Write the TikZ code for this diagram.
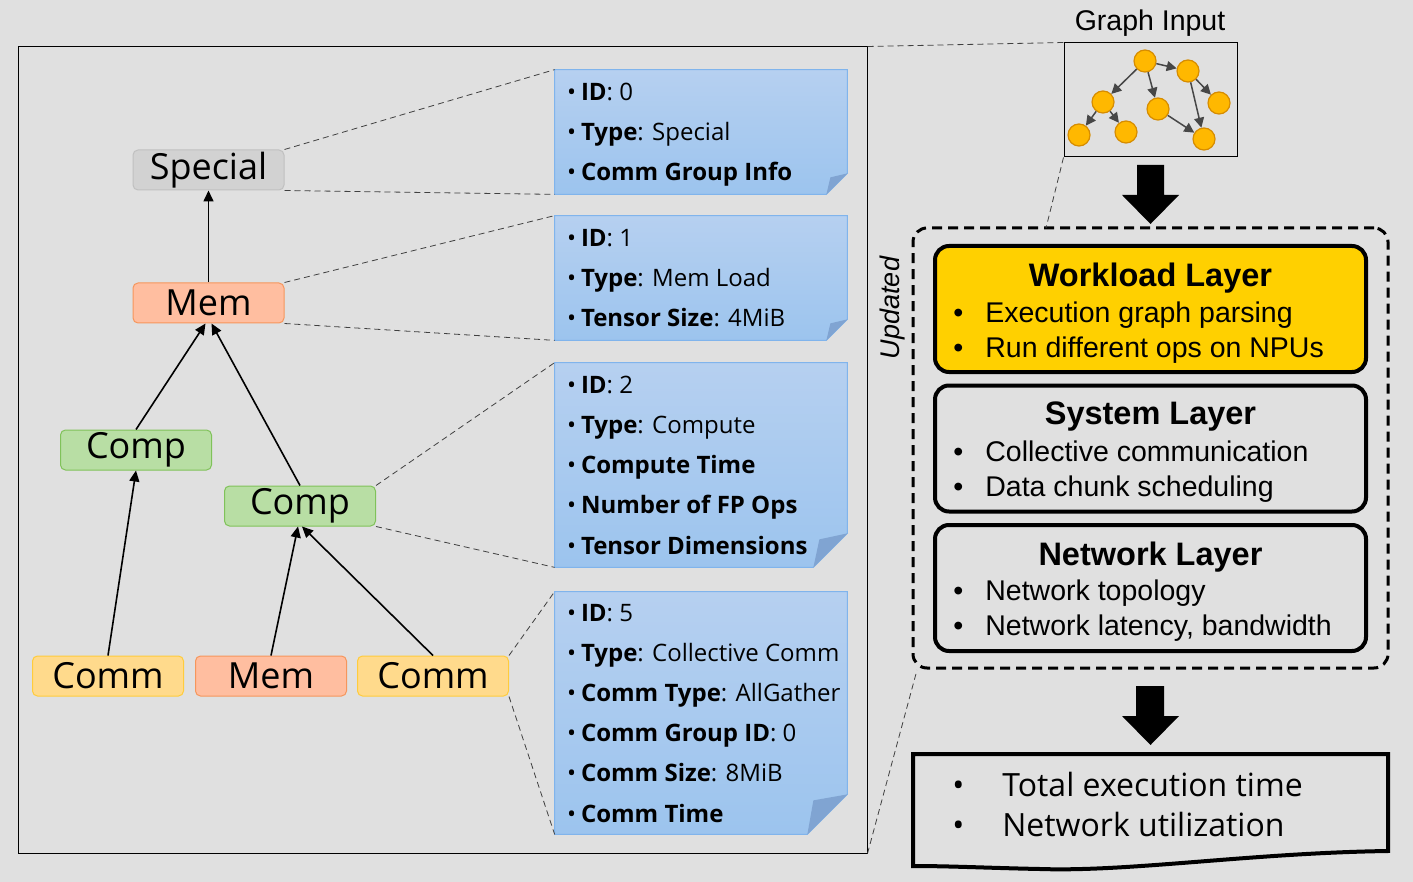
\documentclass[tikz,border=0pt]{standalone}
\usepackage{fontspec}
\setmainfont{Open Sans}
\newfontfamily\arialfont{Liberation Sans}
\usetikzlibrary{arrows.meta}

\definecolor{bgcol}{RGB}{224,224,224}
\definecolor{specfill}{RGB}{210,210,210}
\definecolor{specline}{RGB}{192,192,192}
\definecolor{memfill}{RGB}{255,190,160}
\definecolor{memline}{RGB}{246,150,92}
\definecolor{compfill}{RGB}{184,222,164}
\definecolor{compline}{RGB}{128,194,90}
\definecolor{commfill}{RGB}{255,218,140}
\definecolor{commline}{RGB}{255,204,60}
\definecolor{notetop}{RGB}{182,208,240}
\definecolor{notebot}{RGB}{156,196,238}
\definecolor{noteline}{RGB}{128,180,236}
\definecolor{foldcol}{RGB}{128,164,210}
\definecolor{dotfill}{RGB}{255,184,0}
\definecolor{dotline}{RGB}{214,140,0}
\definecolor{wlfill}{RGB}{255,208,0}

\tikzset{every picture/.style={line width=0.75pt}}
\tikzset{
  opbox/.style={rounded corners=5pt, minimum width=151pt, minimum height=40pt, inner sep=0pt, font=\fontsize{36}{36}\selectfont, line width=1pt},
  specialop/.style={opbox, fill=specfill, draw=specline},
  memop/.style={opbox, fill=memfill, draw=memline},
  compop/.style={opbox, fill=compfill, draw=compline},
  commop/.style={opbox, fill=commfill, draw=commline},
  dep/.style={-{Triangle[length=11pt,width=10pt]}, line width=1.6pt},
  notebox/.style={minimum width=292pt, inner sep=0pt},
  notebody/.style={top color=notetop, bottom color=notebot, draw=noteline, line width=1pt},
  notetext/.style={anchor=north west, inner sep=0pt, align=left, font=\fontsize{24}{40.2}\selectfont},
  zoomline/.style={dash pattern=on 6pt off 4pt, line width=0.8pt, draw=black!75},
  gdot/.style={circle, fill=dotfill, draw=dotline, line width=1.2pt, minimum size=22pt, inner sep=0pt},
  gedge/.style={-{Triangle[length=10pt,width=10pt]}, line width=1.5pt, draw=black!72},
  layerbox/.style={rounded corners=14pt, line width=4pt, draw=black, minimum width=431pt, minimum height=126pt},
  layertitle/.style={font=\arialfont\bfseries\fontsize{32.5}{32.5}\selectfont, inner sep=0pt},
  layeritem/.style={anchor=west, align=left, inner sep=0pt, font=\arialfont\fontsize{28.5}{35}\selectfont},
}

\begin{document}
\begin{tikzpicture}[x=1pt,y=1pt,yscale=-1]

\fill[bgcol] (0,0) rectangle (1413,882);

\node[draw, line width=1pt, minimum width=849pt, minimum height=806pt] (trace) at (442.5,450) {};

\node[specialop] (spec) at (208.5,170) {Special};
\node[memop] (memtop) at (208.5,303) {Mem};
\node[compop] (compl) at (136,450) {Comp};
\node[compop] (compr) at (300,506) {Comp};
\node[commop] (comml) at (108,676) {Comm};
\node[memop] (membot) at (271,676) {Mem};
\node[commop] (commr) at (433,676) {Comm};

\draw[dep] (memtop) -- (spec);
\draw[dep] (compl.north) -- ([xshift=-3pt]memtop.south);
\draw[dep] (compr.north) -- ([xshift=3pt]memtop.south);
\draw[dep] (comml.north) -- (compl.south);
\draw[dep] (membot.north) -- ([xshift=-2pt]compr.south);
\draw[dep] (commr.north) -- ([xshift=2pt]compr.south);

\node[notebox, minimum height=124pt] (nspec) at (701,132) {};
\draw[notebody] (nspec.north west) -- (nspec.north east) -- ([yshift=-21pt]nspec.south east) -- ([xshift=-21pt]nspec.south east) -- (nspec.south west) -- cycle;
\fill[foldcol] ([yshift=-21pt]nspec.south east) -- ([xshift=-21pt]nspec.south east) -- ([xshift=-17pt,yshift=-17pt]nspec.south east) -- cycle;
\node[notetext] at ([xshift=12pt,yshift=13pt]nspec.north west) {\textbullet\hspace{5pt}\textbf{ID}: 0\\ \textbullet\hspace{5pt}\textbf{Type}: Special\\ \textbullet\hspace{5pt}\textbf{Comm Group Info}};

\node[notebox, minimum height=124pt] (nmem) at (701,278) {};
\draw[notebody] (nmem.north west) -- (nmem.north east) -- ([yshift=-21pt]nmem.south east) -- ([xshift=-21pt]nmem.south east) -- (nmem.south west) -- cycle;
\fill[foldcol] ([yshift=-21pt]nmem.south east) -- ([xshift=-21pt]nmem.south east) -- ([xshift=-17pt,yshift=-17pt]nmem.south east) -- cycle;
\node[notetext] at ([xshift=12pt,yshift=13pt]nmem.north west) {\textbullet\hspace{5pt}\textbf{ID}: 1\\ \textbullet\hspace{5pt}\textbf{Type}: Mem Load\\ \textbullet\hspace{5pt}\textbf{Tensor Size}: 4MiB};

\node[notebox, minimum height=204pt] (ncomp) at (701,465) {};
\draw[notebody] (ncomp.north west) -- (ncomp.north east) -- ([yshift=-34pt]ncomp.south east) -- ([xshift=-34pt]ncomp.south east) -- (ncomp.south west) -- cycle;
\fill[foldcol] ([yshift=-34pt]ncomp.south east) -- ([xshift=-34pt]ncomp.south east) -- ([xshift=-28pt,yshift=-28pt]ncomp.south east) -- cycle;
\node[notetext] at ([xshift=12pt,yshift=13pt]ncomp.north west) {\textbullet\hspace{5pt}\textbf{ID}: 2\\ \textbullet\hspace{5pt}\textbf{Type}: Compute\\ \textbullet\hspace{5pt}\textbf{Compute Time}\\ \textbullet\hspace{5pt}\textbf{Number of FP Ops}\\ \textbullet\hspace{5pt}\textbf{Tensor Dimensions}};

\node[notebox, minimum height=242pt] (ncomm) at (701,713) {};
\draw[notebody] (ncomm.north west) -- (ncomm.north east) -- ([yshift=-40pt]ncomm.south east) -- ([xshift=-40pt]ncomm.south east) -- (ncomm.south west) -- cycle;
\fill[foldcol] ([yshift=-40pt]ncomm.south east) -- ([xshift=-40pt]ncomm.south east) -- ([xshift=-34pt,yshift=-34pt]ncomm.south east) -- cycle;
\node[notetext] at ([xshift=12pt,yshift=12pt]ncomm.north west) {\textbullet\hspace{5pt}\textbf{ID}: 5\\ \textbullet\hspace{5pt}\textbf{Type}: Collective Comm\\ \textbullet\hspace{5pt}\textbf{Comm Type}: AllGather\\ \textbullet\hspace{5pt}\textbf{Comm Group ID}: 0\\ \textbullet\hspace{5pt}\textbf{Comm Size}: 8MiB\\ \textbullet\hspace{5pt}\textbf{Comm Time}};

\draw[zoomline] (spec.north east) -- (nspec.north west);
\draw[zoomline] (spec.south east) -- (nspec.south west);
\draw[zoomline] (memtop.north east) -- (nmem.north west);
\draw[zoomline] (memtop.south east) -- (nmem.south west);
\draw[zoomline] (compr.north east) -- (ncomp.north west);
\draw[zoomline] (compr.south east) -- (ncomp.south west);
\draw[zoomline] (commr.north east) -- (ncomm.north west);
\draw[zoomline] (commr.south east) -- (ncomm.south west);

\node[font=\arialfont\fontsize{28.5}{28.5}\selectfont] (gtitle) at (1150,23) {Graph Input};
\node[draw, line width=1pt, minimum width=173pt, minimum height=114pt, inner sep=0pt] (gin) at (1150.5,100) {};
\node[gdot] (ga) at (1145,61) {};
\node[gdot] (gb) at (1188,71) {};
\node[gdot] (gc) at (1103,102) {};
\node[gdot] (gd) at (1158,109) {};
\node[gdot] (ge) at (1219,103) {};
\node[gdot] (gf) at (1079,135) {};
\node[gdot] (gg) at (1126,132) {};
\node[gdot] (gh) at (1204,139) {};
\draw[gedge] (ga) -- (gb);
\draw[gedge] (ga) -- (gc);
\draw[gedge] (ga) -- (gd);
\draw[gedge] (gb) -- (ge);
\draw[gedge] (gb) -- (gh);
\draw[gedge] (gc) -- (gf);
\draw[gedge] (gc) -- (gg);
\draw[gedge] (gd) -- (gh);

\fill (1137,165) -- (1164,165) -- (1164,195) -- (1179,195) -- (1150.5,224) -- (1122,195) -- (1137,195) -- cycle;

\node[draw, line width=3pt, dash pattern=on 10pt off 6pt, rounded corners=14pt, minimum width=475pt, minimum height=440pt] (upd) at (1150.5,448) {};
\coordinate (updtop) at (1046,228);
\coordinate (updcorner) at (917,670);
\node[rotate=90, font=\arialfont\itshape\fontsize{27}{27}\selectfont] (updlabel) at (893,308) {Updated};

\draw[zoomline] (trace.north east) -- (gin.north west);
\draw[zoomline] (gin.south west) -- (updtop);
\draw[zoomline] (trace.south east) -- (updcorner);

\node[layerbox, fill=wlfill] (wl) at (1150.5,309) {};
\node[layertitle] at (1150.5,278) {Workload Layer};
\node[layeritem] at (953,333) {\makebox[32pt][l]{\textbullet}Execution graph parsing\\ \makebox[32pt][l]{\textbullet}Run different ops on NPUs};

\node[layerbox, fill=bgcol] (sys) at (1150.5,448.5) {};
\node[layertitle] at (1150.5,417) {System Layer};
\node[layeritem] at (953,472) {\makebox[32pt][l]{\textbullet}Collective communication\\ \makebox[32pt][l]{\textbullet}Data chunk scheduling};

\node[layerbox, fill=bgcol] (net) at (1150.5,588) {};
\node[layertitle] at (1150.5,557) {Network Layer};
\node[layeritem] at (953,611) {\makebox[32pt][l]{\textbullet}Network topology\\ \makebox[32pt][l]{\textbullet}Network latency, bandwidth};

\fill (1136,686) -- (1164,686) -- (1164,716) -- (1179,716) -- (1150.5,745) -- (1122,716) -- (1136,716) -- cycle;

\draw[line width=4pt, fill=bgcol] (913,754) -- (1388,754) -- (1388,851) .. controls (1250,853) and (1130,872) .. (1040,869) .. controls (990,868) and (950,866) .. (913,866) -- cycle;
\node[anchor=west, align=left, inner sep=0pt, font=\fontsize{32}{40}\selectfont] (result) at (952,804) {\makebox[50pt][l]{\textbullet}Total execution time\\ \makebox[50pt][l]{\textbullet}Network utilization};

\end{tikzpicture}
\end{document}
